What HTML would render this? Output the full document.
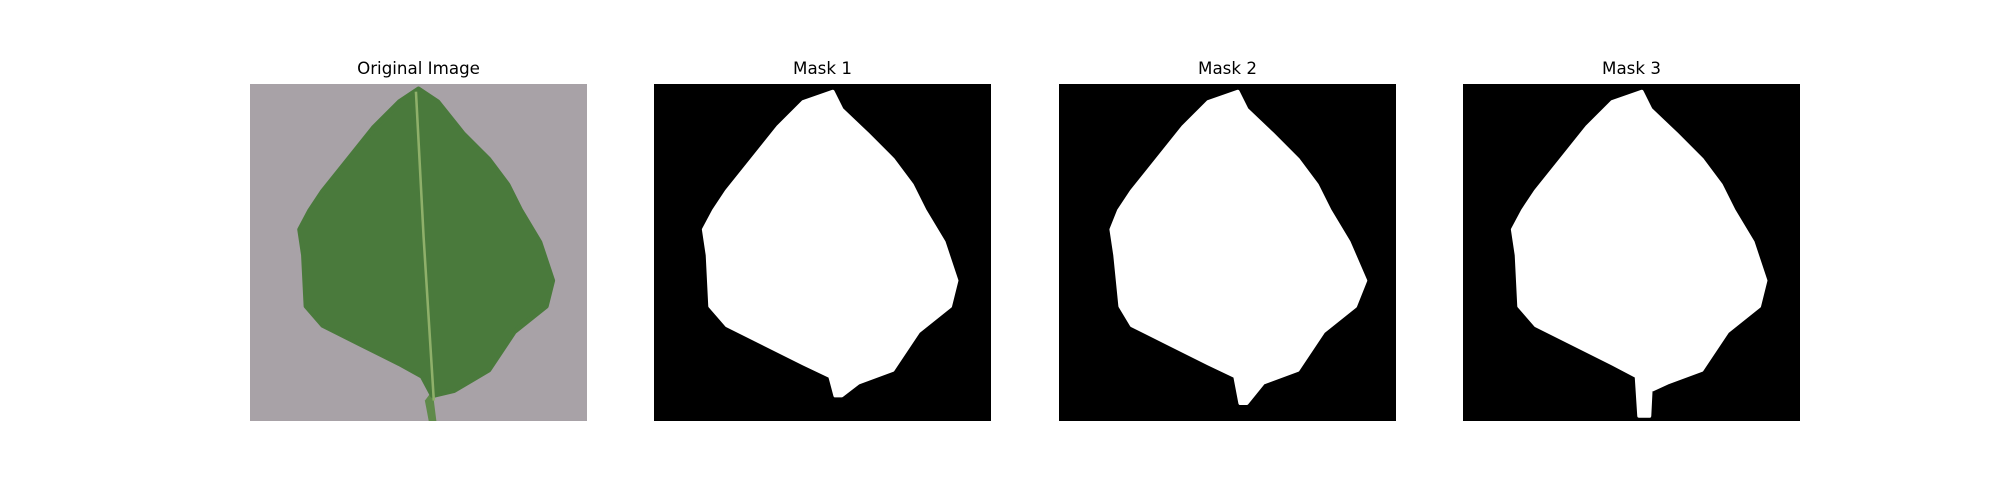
<!DOCTYPE html>
<html><head><meta charset="utf-8"><style>
body{margin:0;background:#fff;width:2000px;height:500px;overflow:hidden;font-family:"DejaVu Sans","Liberation Sans",sans-serif}
.t{position:absolute;top:58px;width:337px;text-align:center;font-size:16.7px;color:#000}
svg.p{position:absolute;top:84px;width:337px;height:337px}
</style></head><body>
<div class="t" style="left:250px">Original Image</div>
<div class="t" style="left:654px">Mask 1</div>
<div class="t" style="left:1059px">Mask 2</div>
<div class="t" style="left:1463px">Mask 3</div>

<svg class="p" style="left:250px" viewBox="0 0 264 264">
<rect width="264" height="264" fill="#a8a2a7"/>
<path d="M137,248 L140,264 L146,264 L143,240 Z" fill="#5f8a4a"/>
<path d="M132,4 L147,14 L167,39 L187,59 L202,79 L212,99 L227,124 L237,154 L232,174 L207,194 L187,224 L160,240 L143,244 L135,229 L117,219 L87,204 L57,189 L44,174 L42,134 L39,114 L47,99 L57,84 L77,59 L97,34 L117,14 Z" fill="#4a7a3c" stroke="#4a7a3c" stroke-width="4" stroke-linejoin="round"/>
<path d="M130,6 L136,120 L144,248" stroke="#8fb06a" stroke-width="2" fill="none"/>
</svg>

<svg class="p" style="left:654px" viewBox="0 0 264 264">
<rect width="264" height="264" fill="#000"/>
<path d="M140,6 L147,20 L167,39 L187,59 L202,79 L212,99 L227,124 L237,154 L232,174 L207,194 L187,224 L160,234 L147,244 L142,244 L138,229 L117,219 L87,204 L57,189 L44,174 L42,134 L39,114 L47,99 L57,84 L77,59 L97,34 L117,14 Z" fill="#fff" stroke="#fff" stroke-width="3" stroke-linejoin="round"/>
</svg>

<svg class="p" style="left:1059px" viewBox="0 0 264 264">
<rect width="264" height="264" fill="#000"/>
<path d="M140,6 L147,20 L167,39 L187,59 L202,79 L212,99 L227,124 L240,154 L232,174 L207,194 L187,224 L160,234 L147,250 L142,250 L138,229 L117,219 L87,204 L57,189 L48,174 L44,134 L41,114 L47,99 L57,84 L77,59 L97,34 L117,14 Z" fill="#fff" stroke="#fff" stroke-width="3" stroke-linejoin="round"/>
</svg>

<svg class="p" style="left:1463px" viewBox="0 0 264 264">
<rect width="264" height="264" fill="#000"/>
<path d="M140,6 L147,20 L167,39 L187,59 L202,79 L212,99 L227,124 L237,154 L232,174 L207,194 L187,224 L160,234 L147,240 L146,260 L138,260 L136,229 L117,219 L87,204 L57,189 L44,174 L42,134 L39,114 L47,99 L57,84 L77,59 L97,34 L117,14 Z" fill="#fff" stroke="#fff" stroke-width="3" stroke-linejoin="round"/>
</svg>
</body></html>
